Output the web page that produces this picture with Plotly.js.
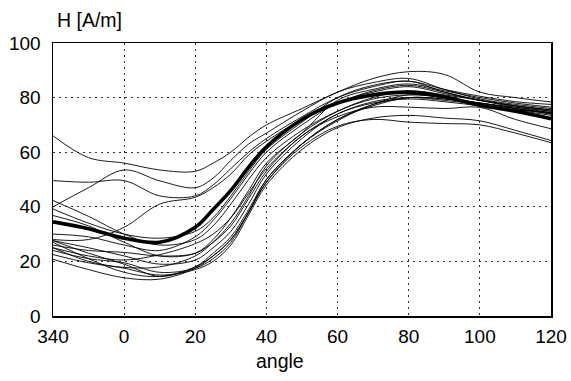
<!DOCTYPE html>
<html>
<head>
<meta charset="utf-8">
<script src="https://cdn.plot.ly/plotly-3.0.1.min.js"></script>
<style>html,body{margin:0;padding:0;background:#fff;}#chart{width:571px;height:381px;}</style>
</head>
<body>
<div id="chart"></div>
<script>
// angle positions (340 is drawn at -20, i.e. wrapped)
var angles = [-20, -10, 0, 10, 20, 25, 30, 35, 40, 50, 60, 70, 80, 90, 100, 110, 120];
var xTickVals = [-20, 0, 20, 40, 60, 80, 100, 120];
var xTickText = ['340', '0', '20', '40', '60', '80', '100', '120'];
var yTickVals = [0, 20, 40, 60, 80, 100];

// mean curve (thick)
var meanH = [34.5, 32, 28.5, 27, 32.5, 39, 46, 54.5, 62, 72, 78, 81, 82, 80.3, 77.2, 75, 72.3];

// individual measurements (thin)
var curveA = [66, 58, 56, 53.5, 53, 56, 60, 65.5, 70, 76, 82, 87, 89.5, 88.5, 82, 80, 78.4];
var curveB = [49.6, 49, 49.6, 44, 44, 48, 54, 60, 65, 73, 80, 84, 86, 82, 79, 77, 75.5];
var curveC = [40, 47, 53.5, 49.5, 47, 50.5, 57, 63, 67, 75, 82, 85.5, 87, 83, 79.5, 77.5, 76];
var curveD = [42.3, 36.5, 30, 26, 28, 33, 41, 50, 58, 68, 75, 79.5, 81, 80, 78, 76, 74];
var curveE = [28, 28, 32.5, 41, 43.5, 47, 52, 59, 64, 72, 78, 82.5, 84.5, 82, 79, 76.5, 74.5];
var curveL1 = [27.6, 23, 19, 14.5, 18, 23, 29, 39, 50, 63, 72, 77, 80, 79.5, 78, 76, 74];
var curveL2 = [27, 21, 16, 14.5, 18, 22, 28, 38, 50, 63, 71.5, 77.5, 81, 80, 78, 76.5, 75];
var curveL3 = [25, 20, 17.5, 15, 17, 20, 26, 37, 48, 61, 69, 72.5, 73.5, 72.5, 71.5, 68, 64.3];
var curveL4 = [24, 21, 19.5, 16, 17.5, 21, 27, 38, 49, 62, 69.5, 72, 71, 70.5, 70, 67, 63.5];
var curveL5 = [27.6, 25, 22, 19, 20.5, 25, 31, 41, 52, 65, 74, 78, 79.5, 78.5, 77, 75.5, 74.5];
var curveL6 = [26, 24, 23.3, 22, 23, 27, 33, 43, 53, 66, 73, 76.5, 76.5, 76, 76.4, 72, 68.6];
var curveL7 = [22.5, 19.5, 17.8, 18, 22, 27, 34, 44, 55, 67, 75, 80, 82.5, 81, 79, 77, 75.5];
var curveL8 = [20.8, 17, 14, 13.5, 17.5, 22, 28, 38, 49, 63, 72, 77.5, 80, 79.5, 78, 76, 74.5];
var curveL9 = [30, 29, 26, 24, 29, 35, 43, 52, 60, 70, 78, 82, 84, 81.5, 79, 77, 75];
var curveL10 = [36.8, 33, 27, 22, 23, 28, 36, 46, 56, 67, 79, 83, 85, 82.5, 80, 78, 76.5];
var curveL11 = [39.2, 34, 30, 28.5, 31, 36, 44, 53, 61, 71, 80, 84.5, 86, 83, 80.5, 78.5, 77.5];
var curveL12 = [25, 22, 20.5, 22.5, 26.5, 30, 36, 45, 54, 66, 74, 78.5, 80, 79, 77.5, 75.5, 73.5];

var thinCurves = [curveA, curveB, curveC, curveD, curveE, curveL1, curveL2, curveL3, curveL4,
                  curveL5, curveL6, curveL7, curveL8, curveL9, curveL10, curveL11, curveL12];

var traces = thinCurves.map(function (c) {
  return {x: angles, y: c, type: 'scatter', mode: 'lines',
          line: {color: '#000', width: 0.9, shape: 'spline', smoothing: 1},
          hoverinfo: 'skip', showlegend: false};
});
traces.push({x: angles, y: meanH, type: 'scatter', mode: 'lines',
             line: {color: '#000', width: 3.6, shape: 'spline', smoothing: 1},
             hoverinfo: 'skip', showlegend: false});

var fontFam = '"Liberation Sans", Arial, sans-serif';
var layout = {
  width: 571, height: 381,
  margin: {l: 53, r: 20, t: 43, b: 65, pad: 0},
  paper_bgcolor: '#fff', plot_bgcolor: '#fff',
  font: {family: fontFam, size: 19, color: '#000'},
  showlegend: false,
  xaxis: {
    range: [-20, 120], tickvals: xTickVals, ticktext: xTickText,
    showgrid: true, gridcolor: '#333', gridwidth: 1, griddash: '2px,4px',
    zeroline: false, showline: true, linecolor: '#000', linewidth: 1.5, mirror: true,
    ticks: 'outside', ticklen: 3, tickcolor: 'rgba(0,0,0,0)',
    tickfont: {family: fontFam, size: 19, color: '#000'}
  },
  yaxis: {
    range: [0, 100], tickvals: yTickVals,
    showgrid: true, gridcolor: '#333', gridwidth: 1, griddash: '2px,4px',
    zeroline: false, showline: true, linecolor: '#000', linewidth: 1.5, mirror: true,
    ticks: 'outside', ticklen: 7, tickcolor: 'rgba(0,0,0,0)',
    tickfont: {family: fontFam, size: 19, color: '#000'}
  },
  annotations: [
    {text: 'H [A/m]', xref: 'paper', yref: 'paper', x: 0.005, y: 1, xanchor: 'left', yanchor: 'bottom',
     yshift: 10, showarrow: false, font: {family: fontFam, size: 19.5, color: '#000'}},
    {text: 'angle', xref: 'paper', yref: 'paper', x: 0.456, y: 0, xanchor: 'center', yanchor: 'top',
     yshift: -32, showarrow: false, font: {family: fontFam, size: 19.5, color: '#000'}}
  ]
};

Plotly.newPlot('chart', traces, layout, {staticPlot: true, displayModeBar: false});
</script>
</body>
</html>
